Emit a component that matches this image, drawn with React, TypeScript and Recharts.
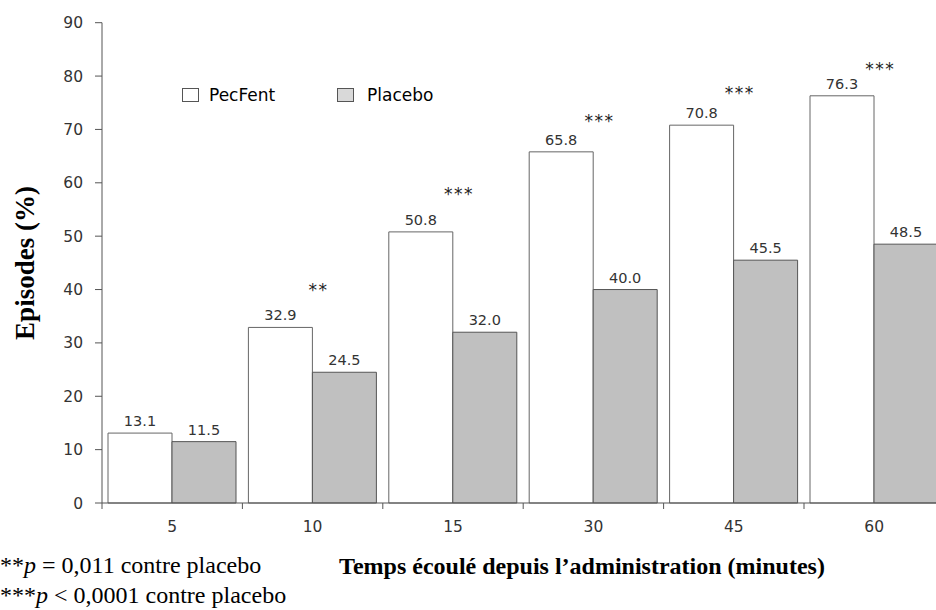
import { ComposedChart, Bar, Line, XAxis, YAxis, LabelList, Legend } from "recharts";

const categories = ["5", "10", "15", "30", "45", "60"];
const pecfent = [13.1, 32.9, 50.8, 65.8, 70.8, 76.3];
const placebo = [11.5, 24.5, 32.0, 40.0, 45.5, 48.5];
// significance marks and the height (in %) at which they sit
const sigMarks = ["", "**", "***", "***", "***", "***"];
const sigLevels = [null, 40.4, 58.4, 72.2, 77.4, 81.9];
const yTicks = [0, 10, 20, 30, 40, 50, 60, 70, 80, 90];

const data = categories.map((t, i) => ({
  time: t,
  pecfent: pecfent[i],
  placebo: placebo[i],
  sig: sigLevels[i],
}));

const W = 950;
const H = 610;
const M = { top: 22.7, right: 5.6, bottom: 77, left: 42 };
const Y_W = 60;
const PLOT_W = W - M.left - M.right - Y_W;

const sans = "'DejaVu Sans', Verdana, sans-serif";
const serif = "'Liberation Serif', 'Times New Roman', serif";
const axisColor = "#555";

const XTick = (props: any) => {
  const { x, y, payload } = props;
  const half = PLOT_W / categories.length / 2;
  return (
    <g>
      <line x1={x - half} x2={x - half} y1={y - 6} y2={y} stroke={axisColor} />
      <text x={x} y={y + 22.5} textAnchor="middle" fill="#333" fontSize={15.5} fontFamily={sans}>
        {payload.value}
      </text>
    </g>
  );
};

const StarLabel = (props: any) => {
  const { x, y, index } = props;
  const mark = sigMarks[index];
  if (!mark || y == null || isNaN(y)) return null;
  return (
    <text x={x + 6} y={y + 9} textAnchor="middle" fill="#222" fontSize={17} fontFamily={sans} letterSpacing={1.5}>
      {mark}
    </text>
  );
};

const renderLegend = () => (
  <div style={{ position: "relative", height: 20, fontFamily: sans, fontSize: 17, color: "#000" }}>
    <div style={{ position: "absolute", left: 182, top: 4, width: 15, height: 11.5, background: "#fff", border: "1px solid #555" }} />
    <div style={{ position: "absolute", left: 209, top: 0, lineHeight: "22px", whiteSpace: "nowrap" }}>PecFent</div>
    <div style={{ position: "absolute", left: 337, top: 4, width: 15, height: 11.5, background: "#d9d9d9", border: "1px solid #555" }} />
    <div style={{ position: "absolute", left: 367, top: 0, lineHeight: "22px", whiteSpace: "nowrap" }}>Placebo</div>
  </div>
);

export default function App() {
  return (
    <div style={{ position: "fixed", left: 0, top: 0, width: 936, height: 610, overflow: "hidden", background: "#fff" }}>
      <ComposedChart width={W} height={H} data={data} margin={M} barGap={0} barSize={64}>
        <XAxis
          dataKey="time"
          height={30}
          stroke={axisColor}
          tickLine={false}
          tickSize={6}
          tickMargin={0}
          tick={<XTick />}
          interval={0}
        />
        <YAxis
          width={Y_W}
          domain={[0, 90]}
          ticks={yTicks}
          interval={0}
          stroke={axisColor}
          tickSize={7}
          tickMargin={12}
          tick={{ fill: "#333", fontSize: 15.5, fontFamily: sans }}
        />
        <Legend
          content={renderLegend}
          layout="horizontal"
          verticalAlign="middle"
          align="center"
          wrapperStyle={{ top: 84, left: 0, width: 600 }}
        />
        <Bar dataKey="pecfent" name="PecFent" fill="#fff" stroke="#666" isAnimationActive={false}>
          <LabelList
            dataKey="pecfent"
            position="top"
            offset={7}
            formatter={(v: any) => Number(v).toFixed(1)}
            style={{ fill: "#333", fontSize: 14.5, fontFamily: sans }}
          />
        </Bar>
        <Bar dataKey="placebo" name="Placebo" fill="#c0c0c0" stroke="#555" isAnimationActive={false}>
          <LabelList
            dataKey="placebo"
            position="top"
            offset={7}
            formatter={(v: any) => Number(v).toFixed(1)}
            style={{ fill: "#333", fontSize: 14.5, fontFamily: sans }}
          />
        </Bar>
        <Line
          dataKey="sig"
          stroke="none"
          dot={false}
          activeDot={false}
          legendType="none"
          isAnimationActive={false}
        >
          <LabelList dataKey="sig" content={<StarLabel />} />
        </Line>
      </ComposedChart>
      <div
        style={{
          position: "absolute",
          left: 25,
          top: 262.5,
          transform: "translate(-50%, -50%) rotate(-90deg)",
          fontFamily: serif,
          fontWeight: "bold",
          fontSize: 27,
          lineHeight: 1,
          whiteSpace: "nowrap",
          color: "#000",
        }}
      >
        Episodes (%)
      </div>
      <div
        style={{
          position: "absolute",
          left: 582,
          top: 554,
          transform: "translateX(-50%)",
          fontFamily: serif,
          fontWeight: "bold",
          fontSize: 24,
          lineHeight: 1,
          whiteSpace: "nowrap",
          color: "#000",
        }}
      >
        Temps écoulé depuis l’administration (minutes)
      </div>
      <div style={{ position: "absolute", left: 0, top: 553, fontFamily: serif, fontSize: 24, lineHeight: 1, whiteSpace: "nowrap", color: "#000" }}>
        **<i>p</i> = 0,011 contre placebo
      </div>
      <div style={{ position: "absolute", left: 0, top: 583, fontFamily: serif, fontSize: 24, lineHeight: 1, whiteSpace: "nowrap", color: "#000" }}>
        ***<i>p</i> &lt; 0,0001 contre placebo
      </div>
    </div>
  );
}
